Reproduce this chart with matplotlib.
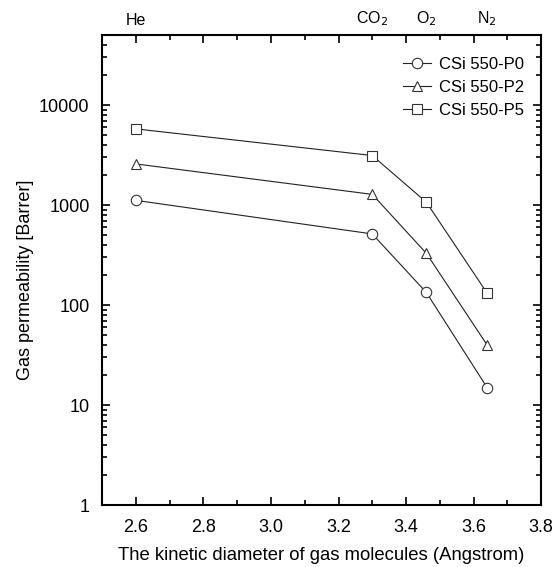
import matplotlib
matplotlib.use("Agg")
import matplotlib.pyplot as plt
from matplotlib.ticker import LogLocator, FixedLocator, MultipleLocator, NullFormatter

plt.rcParams['font.family'] = ['Liberation Sans', 'DejaVu Sans']

diameters = [2.6, 3.3, 3.46, 3.64]
gases = ["He", "CO$_2$", "O$_2$", "N$_2$"]
p0 = [1115, 515, 134, 15]
p2 = [2580, 1280, 330, 40]
p5 = [5780, 3130, 1070, 132]
series_names = ["CSi 550-P0", "CSi 550-P2", "CSi 550-P5"]
markers = ["o", "^", "s"]

fig = plt.figure(figsize=(5.55, 5.67), dpi=100)
ax = fig.add_axes([0.184, 0.109, 0.791, 0.829])

for vals, name, m in zip([p0, p2, p5], series_names, markers):
    ax.plot(diameters, vals, marker=m, color="#222222", lw=0.8, ms=7.5,
            mfc="white", mec="#333333", mew=0.8, label=name)

ax.set_yscale("log")
ax.set_xlim(2.5, 3.8)
ax.set_ylim(1, 50000)
ax.xaxis.set_major_locator(MultipleLocator(0.2))
ax.xaxis.set_minor_locator(MultipleLocator(0.1))
ax.yaxis.set_major_locator(FixedLocator([1, 10, 100, 1000, 10000]))
ax.yaxis.set_major_formatter(matplotlib.ticker.FuncFormatter(lambda v, p: f"{int(v)}"))
ax.yaxis.set_minor_locator(LogLocator(base=10, subs=range(2, 10), numticks=20))
ax.yaxis.set_minor_formatter(NullFormatter())

ax.tick_params(which="both", direction="in", top=True, right=True, labelsize=13, width=1.2)
ax.tick_params(which="major", length=6)
ax.tick_params(which="minor", length=3.5)
ax.tick_params(axis="x", pad=10)
ax.tick_params(axis="y", pad=9)
for s in ax.spines.values():
    s.set_linewidth(1.5)

ax.set_xlabel("The kinetic diameter of gas molecules (Angstrom)", fontsize=13.3, labelpad=8)
ax.set_ylabel("Gas permeability [Barrer]", fontsize=13, labelpad=10)
ax.yaxis.set_label_coords(-0.155, 0.48)

for x, g in zip(diameters, gases):
    ax.text(x, 1.015, g, transform=ax.get_xaxis_transform(), ha="center", va="bottom", fontsize=11.5)

ax.legend(loc="upper right", frameon=False, fontsize=12, handlelength=1.7,
          handletextpad=0.5, labelspacing=0.5, borderaxespad=0.6,
          bbox_to_anchor=(1.0, 0.99))

fig.savefig("out.png", dpi=100)
